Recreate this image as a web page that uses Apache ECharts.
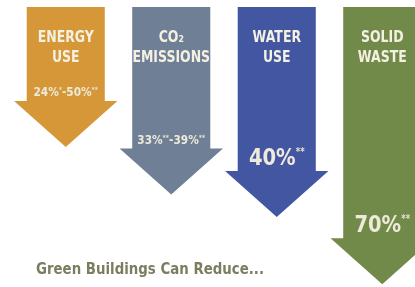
<!DOCTYPE html>
<html>
<head>
<meta charset="utf-8">
<script src="https://cdn.jsdelivr.net/npm/echarts@6/dist/echarts.min.js"></script>
<style>
  html, body { margin: 0; padding: 0; background: #ffffff; }
  #chart { width: 415px; height: 287px; }
</style>
</head>
<body>
<div id="chart"></div>
<script>
// categories and reduction figures
var categories = ['ENERGY\nUSE', 'CO\u2082\nEMISSIONS', 'WATER\nUSE', 'SOLID\nWASTE'];
var reductionLabels = ['24%*-50%**', '33%**-39%**', '40%**', '70%**'];
// how far each arrow reaches down (0 = top, 100 = bottom of picture)
var arrowDepth = [50, 67, 75, 99];

var arrowColors = ['#d69739', '#6f7f96', '#4256a2', '#718a4a'];
var font = "'DejaVu Sans', sans-serif";

var chart = echarts.init(document.getElementById('chart'));

// stars become small raised marks
function richLabel(str) {
  return str.split(/(\*+)/).filter(Boolean).map(function (p) {
    return p.charAt(0) === '*' ? '{s|' + p + '}' : '{v|' + p + '}';
  }).join('');
}

function renderArrow(params, api) {
  var i = api.value(0);
  var top = api.coord([i, 0]);
  var tip = api.coord([i, api.value(1)]);
  var bw = api.size([1, 0])[0];
  var cx = top[0];
  var shaft = bw * 0.37;
  var head = bw * 0.49;
  var headH = 46;
  var neck = tip[1] - headH;
  var label = reductionLabels[i];
  var big = label.length < 7;
  return {
    type: 'group',
    children: [
      {
        type: 'polygon',
        shape: {
          points: [
            [cx - shaft, top[1]], [cx + shaft, top[1]], [cx + shaft, neck],
            [cx + head, neck], [cx, tip[1]], [cx - head, neck], [cx - shaft, neck]
          ]
        },
        style: { fill: arrowColors[i] }
      },
      {
        type: 'text',
        x: cx, y: top[1] + 41,
        scaleX: 0.78,
        style: {
          text: categories[i],
          x: 0, y: 0,
          align: 'center', verticalAlign: 'middle',
          fill: '#f4f1e2',
          fontSize: 16, fontWeight: 'bold', fontFamily: font,
          lineHeight: 20
        }
      },
      {
        type: 'text',
        x: cx, y: neck - (big ? 12 : 8),
        scaleX: big ? 0.85 : 0.88,
        style: {
          text: richLabel(label),
          x: 0, y: 0,
          align: 'center', verticalAlign: 'middle',
          rich: {
            v: { fill: '#eeeadb', fontSize: big ? 23 : 12, fontWeight: 'bold', fontFamily: font },
            s: { fill: '#e6e2d2', fontSize: big ? 10 : 7, fontWeight: 'bold', fontFamily: font, verticalAlign: 'top' }
          }
        }
      }
    ]
  };
}

var option = {
  animation: false,
  grid: { left: 13, top: 7, width: 422, height: 280, outerBoundsMode: 'none' },
  xAxis: { type: 'category', data: categories, show: false },
  yAxis: { type: 'value', min: 0, max: 100, inverse: true, show: false },
  graphic: [{
    type: 'text',
    x: 36, y: 270,
    scaleX: 0.89,
    style: {
      text: 'Green Buildings Can Reduce...',
      x: 0, y: 0,
      verticalAlign: 'middle',
      fill: '#7c7d5f',
      font: 'bold 15px ' + font
    }
  }],
  series: [{
    type: 'custom',
    renderItem: renderArrow,
    clip: false,
    data: arrowDepth.map(function (v, i) { return [i, v]; })
  }]
};

chart.setOption(option);
</script>
</body>
</html>
